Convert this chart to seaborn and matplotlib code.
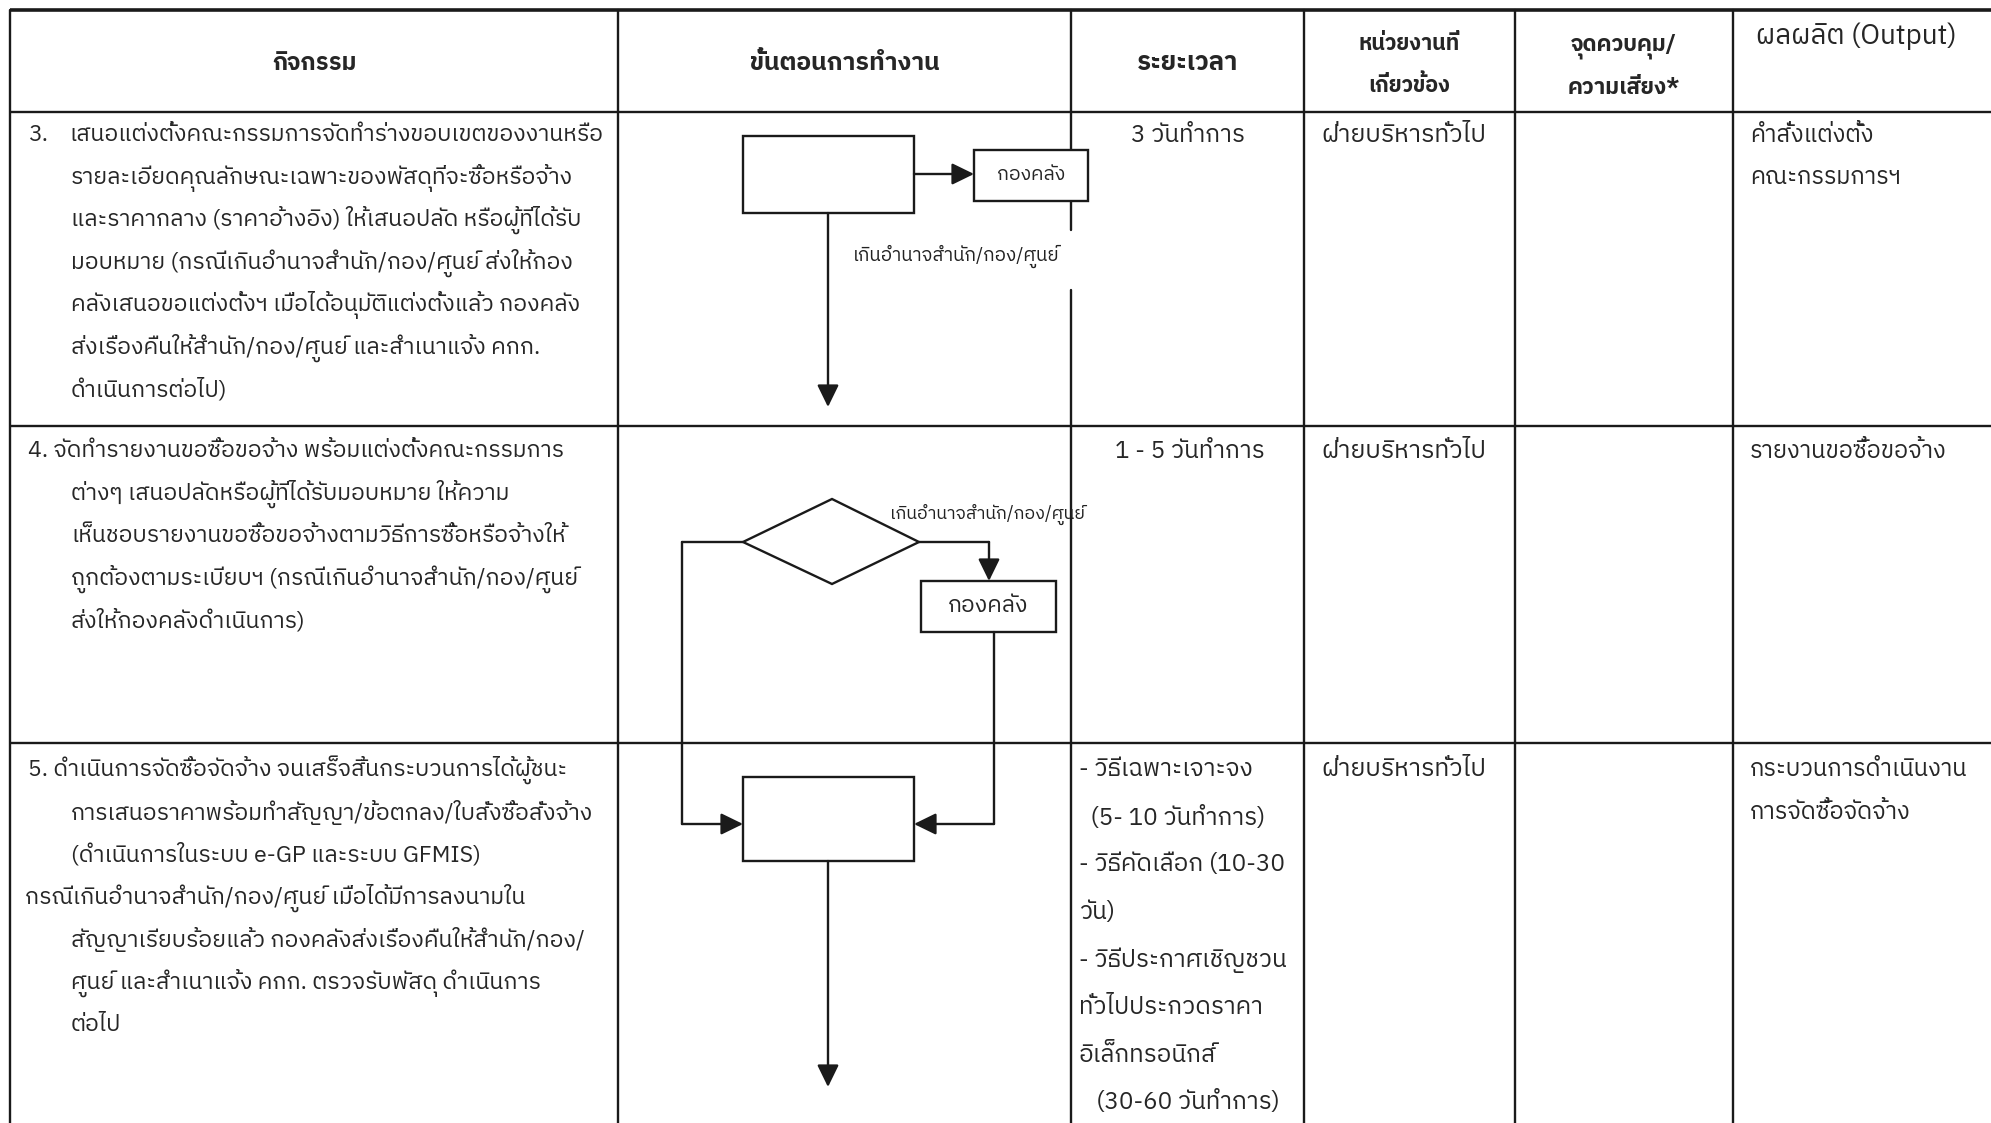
import matplotlib
matplotlib.use("Agg")
import matplotlib.pyplot as plt
import seaborn as sns
from matplotlib import font_manager
from matplotlib.ft2font import FT2Font
from matplotlib.patches import Rectangle, Polygon

sns.set_theme(style="white")

# ---- pick a font family that has Thai glyphs, if any is installed ----
thai_fams = []
for f in font_manager.fontManager.ttflist:
    try:
        cm = FT2Font(f.fname).get_charmap()
    except Exception:
        continue
    if 0x0E01 in cm and 0x0E44 in cm and 0x0E33 in cm:
        thai_fams.append(f.name)
thai_fams = sorted(set(thai_fams), key=lambda n: (0 if "Sans" in n else 1, n))
FAM = ([thai_fams[0]] if thai_fams else []) + ["DejaVu Sans"]
plt.rcParams["font.family"] = FAM

# ---------------- data (text content of the table) ----------------
headers = ["กิจกรรม", "ขั้นตอนการทำงาน", "ระยะเวลา",
           "หน่วยงานที่\nเกี่ยวข้อง", "จุดควบคุม/\nความเสี่ยง*", "ผลผลิต (Output)"]

activity_3_num = "3."
activity_3 = ["เสนอแต่งตั้งคณะกรรมการจัดทำร่างขอบเขตของงานหรือ",
              "รายละเอียดคุณลักษณะเฉพาะของพัสดุที่จะซื้อหรือจ้าง",
              "และราคากลาง (ราคาอ้างอิง) ให้เสนอปลัด หรือผู้ที่ได้รับ",
              "มอบหมาย (กรณีเกินอำนาจสำนัก/กอง/ศูนย์ ส่งให้กอง",
              "คลังเสนอขอแต่งตั้งฯ เมื่อได้อนุมัติแต่งตั้งแล้ว กองคลัง",
              "ส่งเรื่องคืนให้สำนัก/กอง/ศูนย์ และสำเนาแจ้ง คกก.",
              "ดำเนินการต่อไป)"]
activity_4 = ["4. จัดทำรายงานขอซื้อขอจ้าง พร้อมแต่งตั้งคณะกรรมการ",
              "ต่างๆ เสนอปลัดหรือผู้ที่ได้รับมอบหมาย ให้ความ",
              "เห็นชอบรายงานขอซื้อขอจ้างตามวิธีการซื้อหรือจ้างให้",
              "ถูกต้องตามระเบียบฯ (กรณีเกินอำนาจสำนัก/กอง/ศูนย์",
              "ส่งให้กองคลังดำเนินการ)"]
activity_5 = ["5. ดำเนินการจัดซื้อจัดจ้าง จนเสร็จสิ้นกระบวนการได้ผู้ชนะ",
              "การเสนอราคาพร้อมทำสัญญา/ข้อตกลง/ใบสั่งซื้อสั่งจ้าง",
              "(ดำเนินการในระบบ e-GP และระบบ GFMIS)",
              "กรณีเกินอำนาจสำนัก/กอง/ศูนย์ เมื่อได้มีการลงนามใน",
              "สัญญาเรียบร้อยแล้ว กองคลังส่งเรื่องคืนให้สำนัก/กอง/",
              "ศูนย์ และสำเนาแจ้ง คกก. ตรวจรับพัสดุ ดำเนินการ",
              "ต่อไป"]
indent_5 = [0, 1, 1, 0, 1, 1, 1]

duration_3 = "3 วันทำการ"
duration_4 = "1 - 5 วันทำการ"
duration_5 = ["- วิธีเฉพาะเจาะจง", "  (5- 10 วันทำการ)", "- วิธีคัดเลือก (10-30", "วัน)",
              "- วิธีประกาศเชิญชวน", "ทั่วไปประกวดราคา", "อิเล็กทรอนิกส์", "   (30-60 วันทำการ)"]
units = ["ฝ่ายบริหารทั่วไป", "ฝ่ายบริหารทั่วไป", "ฝ่ายบริหารทั่วไป"]
outputs = [["คำสั่งแต่งตั้ง", "คณะกรรมการฯ"], ["รายงานขอซื้อขอจ้าง"],
           ["กระบวนการดำเนินงาน", "การจัดซื้อจัดจ้าง"]]
finance_label = "กองคลัง"
over_label = "เกินอำนาจสำนัก/กอง/ศูนย์"

# ---------------- layout (pixels) ----------------
W, H = 1991, 1123
fig = plt.figure(figsize=(W / 100, H / 100), dpi=100)
ax = fig.add_axes([0, 0, 1, 1])
ax.set_xlim(0, W)
ax.set_ylim(H, 0)
ax.axis("off")

col_x = [10, 618, 1071, 1304, 1515, 1733]
row_y = [10, 112, 426, 743]
LW = 1.7
FS = 16.6       # activity column
FS_D = 17.5     # duration column
FS_U = 18.0     # unit column
FS_O = 17.0     # output column
lh = 42.5

# table lines
ax.plot([col_x[0], W], [row_y[0], row_y[0]], color="k", lw=2.6, solid_capstyle="butt")
for y in row_y[1:]:
    ax.plot([col_x[0], W], [y, y], color="k", lw=LW, solid_capstyle="butt")
for i, x in enumerate(col_x):
    if i == 2:
        ax.plot([x, x], [row_y[0], 230], color="k", lw=LW)
        ax.plot([x, x], [290, H], color="k", lw=LW)
    else:
        ax.plot([x, x], [row_y[0], H], color="k", lw=LW)

# headers
hc = [(col_x[i] + col_x[i + 1]) / 2 for i in range(5)] + [1856]
ax.text(hc[0], 63, headers[0], ha="center", va="center", fontsize=17, fontweight="bold")
ax.text(hc[1], 63, headers[1], ha="center", va="center", fontsize=17.8, fontweight="bold")
ax.text(hc[2], 63, headers[2], ha="center", va="center", fontsize=18.5, fontweight="bold")
for i, fs in ((3, 15.5), (4, 16.0)):
    l1, l2 = headers[i].split("\n")
    ax.text(hc[i], 44 + (i - 3) * 2, l1, ha="center", va="center", fontsize=fs, fontweight="bold")
    ax.text(hc[i], 85 + (i - 3) * 2, l2, ha="center", va="center", fontsize=fs, fontweight="bold")
ax.text(hc[5], 36, headers[5], ha="center", va="center", fontsize=20)

# activity column
def put_lines(lines, y0, xs):
    for k, (s, x) in enumerate(zip(lines, xs)):
        ax.text(x, y0 + k * lh, s, ha="left", va="center", fontsize=FS)

ax.text(28, 135, activity_3_num, ha="left", va="center", fontsize=FS)
put_lines(activity_3, 135, [69] + [71] * 6)
put_lines(activity_4, 451, [28] + [71] * 4)
put_lines(activity_5, 770, [71 if d else (28 if k == 0 else 25) for k, d in enumerate(indent_5)])

# durations
ax.text(1188, 135, duration_3, ha="center", va="center", fontsize=FS_D)
ax.text(1190, 451, duration_4, ha="center", va="center", fontsize=FS_D)
for k, s in enumerate(duration_5):
    ax.text(1079, 770 + k * 47.5, s, ha="left", va="center", fontsize=FS_D)

# units / outputs
for y0, u, outs in zip([135, 451, 770], units, outputs):
    ax.text(1321, y0, u, ha="left", va="center", fontsize=FS_U)
    for k, s in enumerate(outs):
        ax.text(1750, y0 + k * lh, s, ha="left", va="center", fontsize=FS_O)

# ---------------- flowchart ----------------
def box(x0, y0, x1, y1, text=None, fs=FS):
    ax.add_patch(Rectangle((x0, y0), x1 - x0, y1 - y0, facecolor="white",
                           edgecolor="k", lw=LW, zorder=3))
    if text:
        ax.text((x0 + x1) / 2, (y0 + y1) / 2, text, ha="center", va="center",
                fontsize=fs, zorder=4)

def arrow(x0, y0, x1, y1):
    ax.annotate("", xy=(x1, y1), xytext=(x0, y0), zorder=3,
                arrowprops=dict(arrowstyle="-|>,head_length=0.45,head_width=0.22",
                                color="k", lw=LW, mutation_scale=30,
                                shrinkA=0, shrinkB=0))

def line(xs, ys):
    ax.plot(xs, ys, color="k", lw=LW, zorder=3, solid_joinstyle="miter")

# row 3
box(743, 136, 914, 213)
box(974, 150, 1088, 201, finance_label, fs=14)
arrow(914, 174, 974, 174)
arrow(828, 213, 828, 407)
ax.text(853, 256, over_label, ha="left", va="center", fontsize=13.5, color="#222222")

# row 4
ax.add_patch(Polygon([[743, 542], [832, 499], [919, 542], [832, 584]], closed=True,
                     facecolor="white", edgecolor="k", lw=LW, zorder=3))
ax.text(890, 514, over_label, ha="left", va="center", fontsize=12.8, color="#222222", zorder=4)
line([919, 989], [542, 542])
arrow(989, 542, 989, 581)
box(921, 581, 1056, 632, finance_label, fs=16.4)
line([682, 743], [542, 542])
line([682, 682], [542, 824])
line([994, 994], [632, 824])

# row 5
box(743, 777, 914, 861)
arrow(682, 824, 743, 824)
arrow(994, 824, 914, 824)
arrow(828, 861, 828, 1087)

fig.savefig("out.png", dpi=100, facecolor="white")
